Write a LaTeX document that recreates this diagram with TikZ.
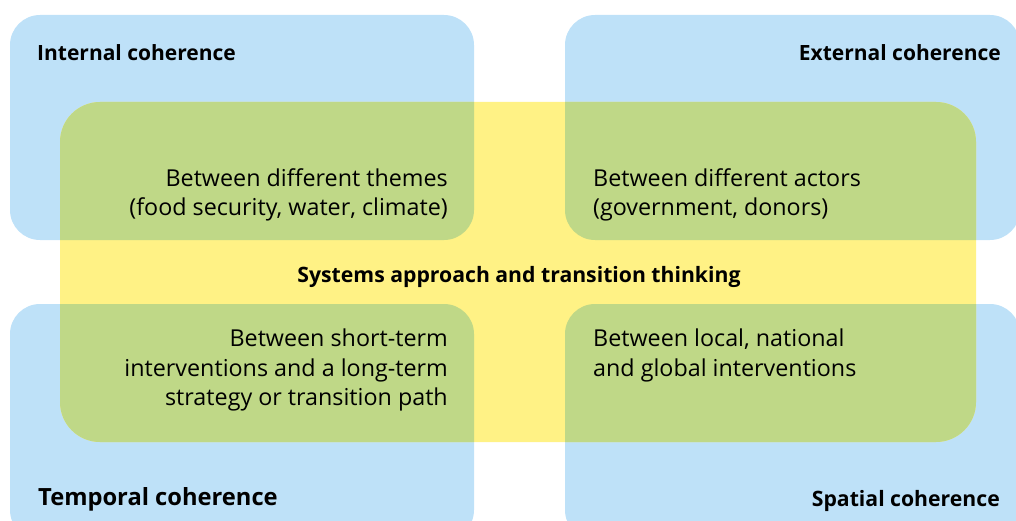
\documentclass[tikz,border=0pt]{standalone}
\usepackage{fontspec}
\setmainfont{Open Sans}
\definecolor{cblue}{RGB}{190,225,248}
\definecolor{cyellow}{RGB}{255,242,133}
\definecolor{cgreen}{RGB}{191,216,135}
\begin{document}
\begin{tikzpicture}[x=1pt,y=-1pt,
  bluebox/.style={fill=cblue,rounded corners=30pt},
  label/.style={inner sep=0pt,font=\bfseries\fontsize{21}{24}\selectfont},
  body/.style={inner sep=0pt,font=\fontsize{23.3}{29.5}\selectfont}]
\useasboundingbox (0,0) rectangle (1016,521);
\path[clip] (0,0) rectangle (1016,521);
\fill[bluebox] (10,15) rectangle (474,240);
\fill[bluebox] (565,15) rectangle (1020,240);
\fill[bluebox] (10,304) rectangle (474,540);
\fill[bluebox] (565,304) rectangle (1020,540);
\fill[cyellow,rounded corners=40pt] (60,102) rectangle (976,442);
\begin{scope}
\path[clip,rounded corners=40pt] (60,102) rectangle (976,442);
\fill[cgreen,rounded corners=30pt] (10,15) rectangle (474,240);
\fill[cgreen,rounded corners=30pt] (565,15) rectangle (1020,240);
\fill[cgreen,rounded corners=30pt] (10,304) rectangle (474,540);
\fill[cgreen,rounded corners=30pt] (565,304) rectangle (1020,540);
\end{scope}
\node[label,anchor=base west] (internal) at (37,61) {Internal coherence};
\node[label,anchor=base east] (external) at (1001,61) {External coherence};
\node[label,anchor=base west,font=\bfseries\fontsize{23.7}{28}\selectfont] (temporal) at (38,505) {Temporal coherence};
\node[label,anchor=base east,font=\bfseries\fontsize{21.2}{24}\selectfont] (spatial) at (1000,506) {Spatial coherence};
\node[label,anchor=base,font=\bfseries\fontsize{21.2}{24}\selectfont] (systems) at (519,282) {Systems approach and transition thinking};
\node[body,align=right,anchor=north east] (themes) at (448,168) {Between different themes\\(food security, water, climate)};
\node[body,align=left,anchor=north west] (actors) at (593,168) {Between different actors\\(government, donors)};
\node[body,align=right,anchor=north east] (temp) at (448,329) {Between short-term\\interventions and a long-term\\strategy or transition path};
\node[body,align=left,anchor=north west] (spat) at (593,329) {Between local, national\\and global interventions};
\end{tikzpicture}
\end{document}
